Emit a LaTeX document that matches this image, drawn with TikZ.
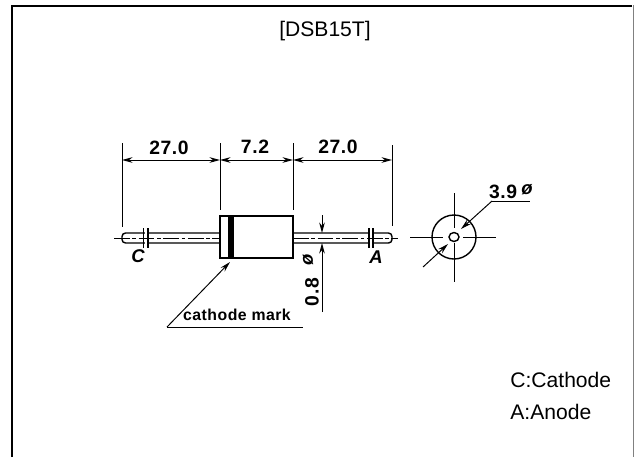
\documentclass[tikz,border=0pt]{standalone}
\usepackage{fontspec}
\setmainfont{Liberation Sans}
\newfontfamily\inkfont[LetterSpace=3]{Liberation Sans Bold}
\usetikzlibrary{arrows.meta}
\tikzset{
  inkline/.style={line width=0.55pt,black},
  centerline/.style={line width=0.5pt,black,dash pattern=on 9pt off 1.5pt on 2pt off 1.5pt},
  dimtext/.style={inner sep=0pt,font=\inkfont\fontsize{11}{12}\selectfont},
  smalltext/.style={inner sep=0pt,font=\inkfont\fontsize{9}{10}\selectfont},
  marktext/.style={inner sep=0pt,font=\inkfont\itshape\fontsize{10.5}{11}\selectfont},
  plaintext/.style={inner sep=0pt,anchor=west,font=\fontsize{12}{14}\selectfont}
}
\begin{document}
\begin{tikzpicture}[x=0.02cm,y=-0.02cm,>={Stealth[length=6pt,width=3.2pt]}]
\useasboundingbox (0,0) rectangle (634,457);
%\draw[help lines, color=gray!30, dashed] (0,0) grid (634,457);
\draw[-,line width=1.1pt] (12,457)--(12,6)--(632,6);
\draw[-,line width=0.8pt,color=gray] (633.2,5)--(633.2,457);
\node[inner sep=0pt,font=\fontsize{12}{14}\selectfont] (title) at (325,31) {[DSB15T]};
\node[plaintext] (cathodekey) at (510,380) {C:Cathode};
\node[plaintext] (anodekey) at (510,412) {A:Anode};
% extension lines
\draw[-,inkline] (122,143)--(122,227);
\draw[-,inkline] (220,143)--(220,210);
\draw[-,inkline] (293,143)--(293,210);
\draw[-,inkline] (392,145)--(392,226);
% dimensions
\draw[<->,inkline] (122,160)--(220,160);
\draw[<->,inkline] (220,160)--(293,160);
\draw[<->,inkline] (293,160)--(392,160);
\node[dimtext] (lenC) at (169,148) {27.0};
\node[dimtext] (lenB) at (255,147) {7.2};
\node[dimtext] (lenA) at (338,147) {27.0};
% body and band
\draw[-,line width=0.8pt] (220,216) rectangle (293,258);
\fill[black] (228,216) rectangle (234,258);
% leads
\draw[-,line width=0.8pt,rounded corners=2pt] (220,233)--(122,233)--(122,243)--(220,243);
\draw[-,line width=0.8pt,rounded corners=2pt] (293,233)--(392,233)--(392,243)--(293,243);
\fill[white] (144.5,231) rectangle (147,245);
\fill[white] (370,231) rectangle (372,245);
\draw[-,line width=0.8pt] (143.5,228)--(143.5,248);
\draw[-,line width=0.8pt] (148,228)--(148,248);
\draw[-,line width=0.8pt] (369,228)--(369,248);
\draw[-,line width=0.8pt] (373,228)--(373,248);
\draw[-,centerline] (114,238)--(220,238);
\draw[-,centerline] (293,238)--(398,238);
\node[marktext] (leadC) at (138,256) {C};
\node[marktext] (leadA) at (376,257) {A};
% lead diameter
\draw[->,inkline] (322,215)--(322,233);
\draw[->,inkline] (322,312)--(322,243);
\node[dimtext,rotate=90] (leadsize) at (312,292) {0.8};
\node[marktext,rotate=90] (leadphi) at (308,260) {ø};
% cathode mark
\coordinate (markfoot) at (167,327);
\coordinate (markend) at (303,327);
\coordinate (marktip) at (230,262);
\draw[->,inkline] (markfoot)--(marktip);
\draw[-,inkline] (markfoot)--(markend);
\node[smalltext] (marklabel) at (237,315) {cathode mark};
% end view
\coordinate (endview) at (454,237);
\draw[-,line width=0.8pt] (endview) circle (22);
\draw[-,line width=0.8pt] (endview) ellipse (5 and 4.5);
\draw[-,inkline] (410,237)--(443,237);
\draw[-,inkline] (463,237)--(496,237);
\draw[-,inkline] (454,193)--(454,228);
\draw[-,inkline] (454,243)--(454,282);
\draw[->,inkline] (492,201)--(461,229);
\draw[->,inkline] (423,267)--(448,244);
\draw[-,inkline] (492,201)--(530,201);
\node[dimtext] (endsize) at (503,192) {3.9};
\node[marktext] (endphi) at (527,190) {ø};
\end{tikzpicture}
\end{document}
